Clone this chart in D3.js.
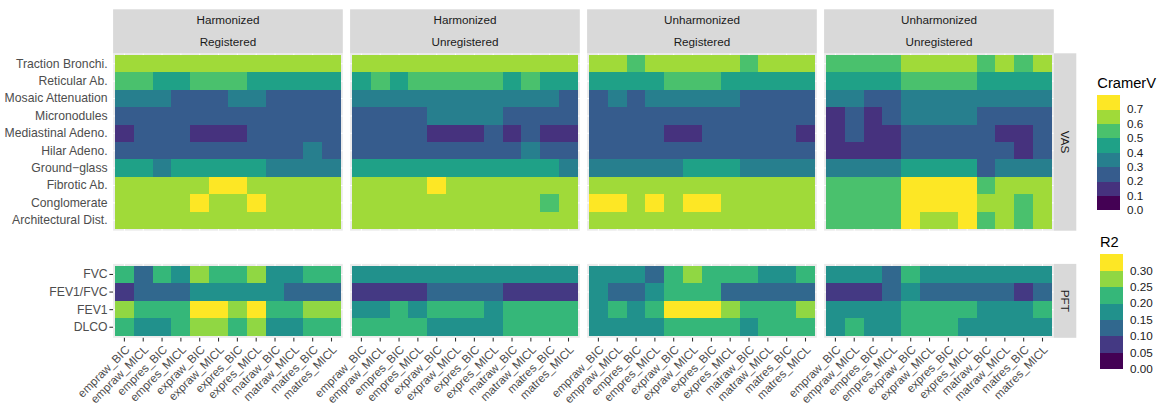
<!DOCTYPE html>
<html>
<head>
<meta charset="utf-8">
<script src="https://cdn.jsdelivr.net/npm/d3@7"></script>
<style>
  body { margin: 0; background: #fff; }
  text { font-family: "Liberation Sans", Arial, Helvetica, sans-serif; }
</style>
</head>
<body>
<svg id="chart" width="1158" height="407"></svg>
<script>
// ---- data -------------------------------------------------------------
const methods = ["empraw_BIC", "empraw_MICL", "empres_BIC", "empres_MICL",
  "expraw_BIC", "expraw_MICL", "expres_BIC", "expres_MICL",
  "matraw_BIC", "matraw_MICL", "matres_BIC", "matres_MICL"];

const vasFeatures = ["Traction Bronchi.", "Reticular Ab.", "Mosaic Attenuation",
  "Micronodules", "Mediastinal Adeno.", "Hilar Adeno.", "Ground\u2212glass",
  "Fibrotic Ab.", "Conglomerate", "Architectural Dist."];

const pftMeasures = ["FVC", "FEV1/FVC", "FEV1", "DLCO"];

const harmonization = ["Harmonized", "Harmonized", "Unharmonized", "Unharmonized"];
const registration = ["Registered", "Unregistered", "Registered", "Unregistered"];

// Cramer's V between cluster assignment and each visual score (rows = vasFeatures)
const vasHarmReg = [
  [.65,.65,.65,.65,.65,.65,.65,.65,.65,.65,.65,.65],
  [.55,.55,.45,.45,.55,.55,.55,.45,.45,.45,.45,.45],
  [.35,.35,.35,.25,.25,.25,.35,.35,.25,.25,.25,.25],
  [.25,.25,.25,.25,.25,.25,.25,.25,.25,.25,.25,.25],
  [.15,.25,.25,.25,.15,.15,.15,.25,.25,.25,.25,.25],
  [.25,.25,.25,.25,.25,.25,.25,.25,.25,.25,.35,.25],
  [.45,.45,.35,.45,.45,.45,.45,.45,.35,.35,.35,.35],
  [.65,.65,.65,.65,.65,.75,.75,.65,.65,.65,.65,.65],
  [.65,.65,.65,.65,.75,.65,.65,.75,.65,.65,.65,.65],
  [.65,.65,.65,.65,.65,.65,.65,.65,.65,.65,.65,.65]
];
const vasHarmUnreg = [
  [.65,.65,.65,.65,.65,.65,.65,.65,.65,.65,.65,.65],
  [.45,.55,.45,.55,.55,.55,.55,.55,.45,.55,.45,.45],
  [.35,.35,.35,.35,.35,.35,.35,.35,.35,.35,.35,.25],
  [.25,.25,.25,.25,.35,.35,.35,.35,.25,.25,.25,.25],
  [.25,.25,.25,.25,.15,.15,.15,.25,.15,.25,.15,.15],
  [.25,.25,.25,.25,.25,.25,.25,.25,.25,.35,.25,.25],
  [.45,.45,.45,.45,.45,.45,.45,.45,.45,.45,.45,.35],
  [.65,.65,.65,.65,.75,.65,.65,.65,.65,.65,.65,.65],
  [.65,.65,.65,.65,.65,.65,.65,.65,.65,.65,.55,.65],
  [.65,.65,.65,.65,.65,.65,.65,.65,.65,.65,.65,.65]
];
const vasUnharmReg = [
  [.65,.65,.55,.65,.65,.65,.65,.65,.55,.65,.65,.65],
  [.45,.45,.45,.45,.55,.55,.55,.45,.45,.45,.45,.45],
  [.25,.35,.25,.35,.35,.35,.35,.35,.25,.25,.25,.25],
  [.25,.25,.25,.25,.25,.25,.25,.25,.25,.25,.25,.25],
  [.25,.25,.25,.25,.15,.15,.25,.25,.25,.25,.25,.15],
  [.25,.25,.25,.25,.25,.25,.25,.25,.25,.25,.25,.25],
  [.35,.35,.35,.35,.35,.45,.45,.45,.35,.35,.35,.35],
  [.65,.65,.65,.65,.65,.65,.65,.65,.65,.65,.65,.65],
  [.75,.75,.65,.75,.65,.75,.75,.65,.65,.65,.65,.65],
  [.65,.65,.65,.65,.65,.65,.65,.65,.65,.65,.65,.65]
];
const vasUnharmUnreg = [
  [.55,.55,.55,.55,.65,.65,.65,.65,.55,.65,.55,.65],
  [.45,.45,.45,.45,.55,.55,.55,.55,.45,.45,.45,.45],
  [.35,.35,.25,.25,.35,.35,.35,.35,.35,.35,.35,.35],
  [.15,.25,.15,.25,.35,.35,.35,.35,.25,.25,.25,.25],
  [.15,.25,.15,.15,.25,.25,.25,.25,.25,.15,.15,.25],
  [.15,.15,.15,.15,.25,.25,.25,.25,.25,.25,.15,.25],
  [.35,.35,.35,.35,.45,.45,.45,.45,.25,.35,.35,.35],
  [.55,.55,.55,.55,.75,.75,.75,.75,.55,.65,.65,.65],
  [.55,.55,.55,.55,.75,.75,.75,.75,.65,.65,.55,.65],
  [.55,.55,.55,.55,.75,.65,.65,.75,.55,.65,.55,.65]
];

// R-squared of each lung function measure on cluster (rows = pftMeasures)
const pftHarmReg = [
  [.225,.125,.225,.175,.275,.225,.225,.275,.175,.175,.225,.225],
  [.075,.125,.125,.125,.175,.175,.175,.175,.175,.125,.125,.125],
  [.275,.225,.225,.225,.32,.32,.275,.32,.225,.225,.275,.275],
  [.225,.175,.175,.225,.275,.275,.225,.275,.175,.175,.225,.225]
];
const pftHarmUnreg = [
  [.175,.175,.175,.175,.175,.175,.175,.175,.175,.175,.175,.175],
  [.075,.075,.075,.075,.125,.125,.125,.125,.075,.075,.075,.075],
  [.175,.175,.225,.175,.225,.225,.225,.175,.225,.225,.225,.225],
  [.225,.225,.225,.225,.175,.175,.175,.175,.225,.225,.225,.225]
];
const pftUnharmReg = [
  [.175,.175,.175,.125,.225,.275,.225,.225,.225,.175,.175,.225],
  [.175,.125,.125,.175,.225,.225,.225,.125,.125,.125,.125,.125],
  [.175,.225,.175,.225,.32,.32,.32,.275,.225,.225,.225,.275],
  [.175,.175,.175,.175,.225,.225,.225,.225,.175,.225,.225,.225]
];
const pftUnharmUnreg = [
  [.175,.175,.175,.125,.225,.175,.175,.175,.175,.175,.175,.175],
  [.075,.075,.075,.125,.175,.125,.125,.125,.125,.125,.075,.125],
  [.175,.175,.175,.175,.225,.225,.225,.225,.175,.175,.175,.225],
  [.175,.225,.175,.175,.225,.225,.225,.175,.175,.175,.175,.175]
];

const vasByFacet = [vasHarmReg, vasHarmUnreg, vasUnharmReg, vasUnharmUnreg];
const pftByFacet = [pftHarmReg, pftHarmUnreg, pftUnharmReg, pftUnharmUnreg];

const cramerBreaks = [0, 0.1, 0.2, 0.3, 0.4, 0.5, 0.6, 0.7];
const r2Breaks = [0, 0.05, 0.10, 0.15, 0.20, 0.25, 0.30];

// ---- layout -----------------------------------------------------------
const svg = d3.select("#chart");
const panelLeft = 113.1, panelW = 229.7, panelGap = 7.3;
const vasTop = 53.3, vasBottom = 230.7;
const pftTop = 263.9, pftBottom = 337.8;
const stripH = 22;
const stripRightW = 22.5;
const tickLen = 3.7, tickPad = 2.9;
const yLabelRight = 107.6;
const yLabelSize = "12.2px";
const axisColor = "#4D4D4D", tickColor = "#333333";

const cramerColor = d3.scaleThreshold()
  .domain(cramerBreaks.slice(1))
  .range(d3.quantize(d3.interpolateViridis, cramerBreaks.length));
const r2Color = d3.scaleThreshold()
  .domain(r2Breaks.slice(1))
  .range(d3.quantize(d3.interpolateViridis, r2Breaks.length));

const yVas = d3.scaleBand().domain(vasFeatures).range([vasTop, vasBottom])
  .paddingInner(0).paddingOuter(0.1);
const yPft = d3.scaleBand().domain(pftMeasures).range([pftTop, pftBottom])
  .paddingInner(0).paddingOuter(0.1);

function drawPanel(g, x, y, rows, grid, color) {
  const [x0, x1] = x.range();
  const [y0, y1] = y.range();
  g.append("rect").attr("x", x0).attr("y", y0)
    .attr("width", x1 - x0).attr("height", y1 - y0).attr("fill", "#EBEBEB");
  g.selectAll(".gx").data(methods).join("line")
    .attr("x1", d => x(d) + x.bandwidth() / 2).attr("x2", d => x(d) + x.bandwidth() / 2)
    .attr("y1", y0).attr("y2", y1).attr("stroke", "#fff").attr("stroke-width", 1.07);
  g.selectAll(".gy").data(rows).join("line")
    .attr("y1", d => y(d) + y.bandwidth() / 2).attr("y2", d => y(d) + y.bandwidth() / 2)
    .attr("x1", x0).attr("x2", x1).attr("stroke", "#fff").attr("stroke-width", 1.07);
  const cells = [];
  rows.forEach((r, i) => methods.forEach((m, j) => cells.push({ r, m, v: grid[i][j] })));
  g.append("g").attr("shape-rendering", "crispEdges")
    .selectAll("rect").data(cells).join("rect")
    .attr("x", d => x(d.m)).attr("y", d => y(d.r))
    .attr("width", x.bandwidth()).attr("height", y.bandwidth())
    .attr("fill", d => color(d.v));
}

for (let i = 0; i < 4; i++) {
  const x0 = panelLeft + i * (panelW + panelGap);
  const x = d3.scaleBand().domain(methods).range([x0, x0 + panelW])
    .paddingInner(0).paddingOuter(0.1);

  drawPanel(svg.append("g"), x, yVas, vasFeatures, vasByFacet[i], cramerColor);
  drawPanel(svg.append("g"), x, yPft, pftMeasures, pftByFacet[i], r2Color);

  // two-level facet strip on top
  svg.append("rect").attr("x", x0).attr("y", vasTop - 2 * stripH)
    .attr("width", panelW).attr("height", 2 * stripH).attr("fill", "#D9D9D9");
  [harmonization[i], registration[i]].forEach((lab, k) => {
    const sy = vasTop - stripH * (2 - k);
    svg.append("text").attr("x", x0 + panelW / 2).attr("y", sy + stripH / 2)
      .attr("dy", "0.35em").attr("text-anchor", "middle")
      .attr("font-size", "11.7px").attr("fill", "#1A1A1A").text(lab);
  });

  // bottom axis with slanted method labels
  const ax = svg.append("g").attr("transform", `translate(0,${pftBottom})`)
    .call(d3.axisBottom(x).tickSize(tickLen).tickPadding(tickPad));
  ax.select(".domain").remove();
  ax.selectAll(".tick line").attr("stroke", tickColor).attr("stroke-width", 1.07);
  ax.selectAll(".tick text")
    .attr("font-size", "11.7px").attr("fill", axisColor)
    .attr("font-family", null)
    .attr("text-anchor", "end")
    .attr("x", 0).attr("y", 0).attr("dy", "0.72em")
    .attr("transform", `translate(0,${tickLen + tickPad}) rotate(-45)`);
}

// right-hand strips
const stripX = panelLeft + 4 * panelW + 3 * panelGap;
[["VAS", vasTop, vasBottom], ["PFT", pftTop, pftBottom]].forEach(([lab, t, b]) => {
  svg.append("rect").attr("x", stripX).attr("y", t)
    .attr("width", stripRightW).attr("height", b - t).attr("fill", "#D9D9D9");
  svg.append("text")
    .attr("transform", `translate(${stripX + stripRightW / 2},${(t + b) / 2}) rotate(90)`)
    .attr("dy", "0.35em").attr("text-anchor", "middle")
    .attr("font-size", "11.7px").attr("fill", "#1A1A1A").text(lab);
});

// left axes
const axV = svg.append("g").attr("transform", `translate(${panelLeft},0)`)
  .call(d3.axisLeft(yVas).tickSize(0).tickPadding(panelLeft - yLabelRight));
axV.select(".domain").remove();
axV.selectAll(".tick line").remove();
axV.selectAll(".tick text").attr("font-size", yLabelSize).attr("fill", axisColor).attr("font-family", null);

const axP = svg.append("g").attr("transform", `translate(${panelLeft},0)`)
  .call(d3.axisLeft(yPft).tickSize(tickLen).tickPadding(panelLeft - yLabelRight - tickLen));
axP.select(".domain").remove();
axP.selectAll(".tick line").attr("stroke", tickColor).attr("stroke-width", 1.07);
axP.selectAll(".tick text").attr("font-size", yLabelSize).attr("fill", axisColor).attr("font-family", null);

// ---- stepped colour legends ------------------------------------------
function stepLegend(title, breaks, color, x, top, labelX, titleY, fmt) {
  const g = svg.append("g");
  const h = 115;
  const n = breaks.length;       // number of colour bins
  const step = h / n;
  const ys = d3.scaleLinear().domain([0, n]).range([top + h, top]);
  g.append("text").attr("x", x).attr("y", titleY)
    .attr("font-size", "14.7px").attr("fill", "#000").text(title);
  const bins = d3.range(n).map(i => ({ i, c: color.range()[i] }));
  g.append("g").attr("shape-rendering", "crispEdges")
    .selectAll("rect").data(bins).join("rect")
    .attr("x", x).attr("y", d => ys(d.i + 1)).attr("width", 22.7).attr("height", step + 0.3)
    .attr("fill", d => d.c);
  g.selectAll(".lab").data(breaks).join("text")
    .attr("x", labelX).attr("y", (d, i) => ys(i)).attr("dy", "0.35em")
    .attr("font-size", "11.7px").attr("fill", "#1A1A1A").text(fmt);
}
stepLegend("CramerV", cramerBreaks, cramerColor, 1097.3, 95, 1127, 88, d3.format(".1f"));
stepLegend("R2", r2Breaks, r2Color, 1100, 254, 1130, 246.5, d3.format(".2f"));
</script>
</body>
</html>
